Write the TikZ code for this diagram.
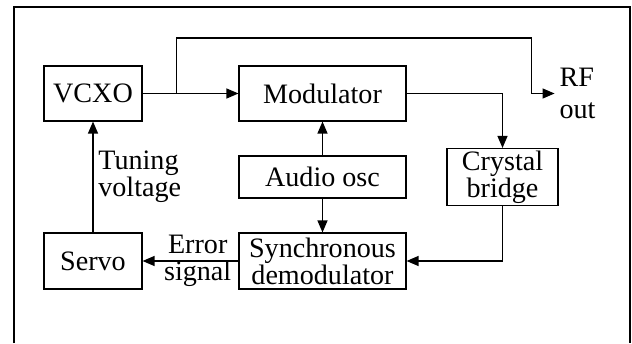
\documentclass[tikz,border=0pt]{standalone}
\usepackage{fontspec}
\setmainfont{Liberation Serif}
\usetikzlibrary{positioning,arrows.meta}

\tikzset{
	block/.style={draw, line width=0.8pt, align=center, inner sep=0pt,
		font=\fontsize{20}{19.2}\selectfont},
	txt/.style={align=left, font=\fontsize{20}{19.2}\selectfont},
	sig/.style={line width=0.9pt, -{Triangle[length=0.3cm,width=0.25cm]}},
}

\begin{document}
\begin{tikzpicture}
	\useasboundingbox (0,0) rectangle (15.8,8.575);
	% frame
	\draw[line width=1.2pt] (0.35,0) |- (15.75,8.4) -- (15.75,0);

	%% blocks
	\node[block, minimum width=2.45cm, minimum height=1.375cm] (vcxo) at (2.325,6.2375) {VCXO};
	\node[block, on grid, right=5.7375 of vcxo, minimum width=4.175cm, minimum height=1.375cm] (mod) {Modulator};
	\node[block, on grid, below=2.0875 of mod, minimum width=4.175cm, minimum height=1.05cm] (audio) {Audio osc};
	\node[block, on grid, below=2.1 of audio, minimum width=4.175cm, minimum height=1.4cm] (sync) {Synchronous\\demodulator};
	\node[block, on grid, left=5.7375 of sync, minimum width=2.45cm, minimum height=1.4cm] (servo) {Servo};
	\node[block, on grid, right=4.5 of audio, minimum width=2.775cm, minimum height=1.425cm] (crystal) {Crystal\\bridge};
	\node[txt, right=3.7 of mod] (rfout) {RF\\[3pt]out};

	% split point for the RF output
	\path (vcxo.east) ++(0.85,0) coordinate (split);

	%% signal paths
	\draw[sig] (vcxo) -- (mod);
	\draw[sig] (split) -- ++(0,1.3875) -| ([xshift=-0.575cm]rfout.west) -- (rfout.west);
	\draw[sig] (mod.east) -| (crystal.north);
	\draw[sig] (crystal.south) |- (sync.east);
	\draw[sig] (audio) -- (mod);
	\draw[sig] (audio) -- (sync);
	\draw[sig] (sync) -- (servo) node[txt, midway, xshift=0.18cm, align=center] {Error\\signal};
	\draw[sig] (servo) -- (vcxo) node[txt, midway, right] {Tuning\\voltage};
\end{tikzpicture}
\end{document}
